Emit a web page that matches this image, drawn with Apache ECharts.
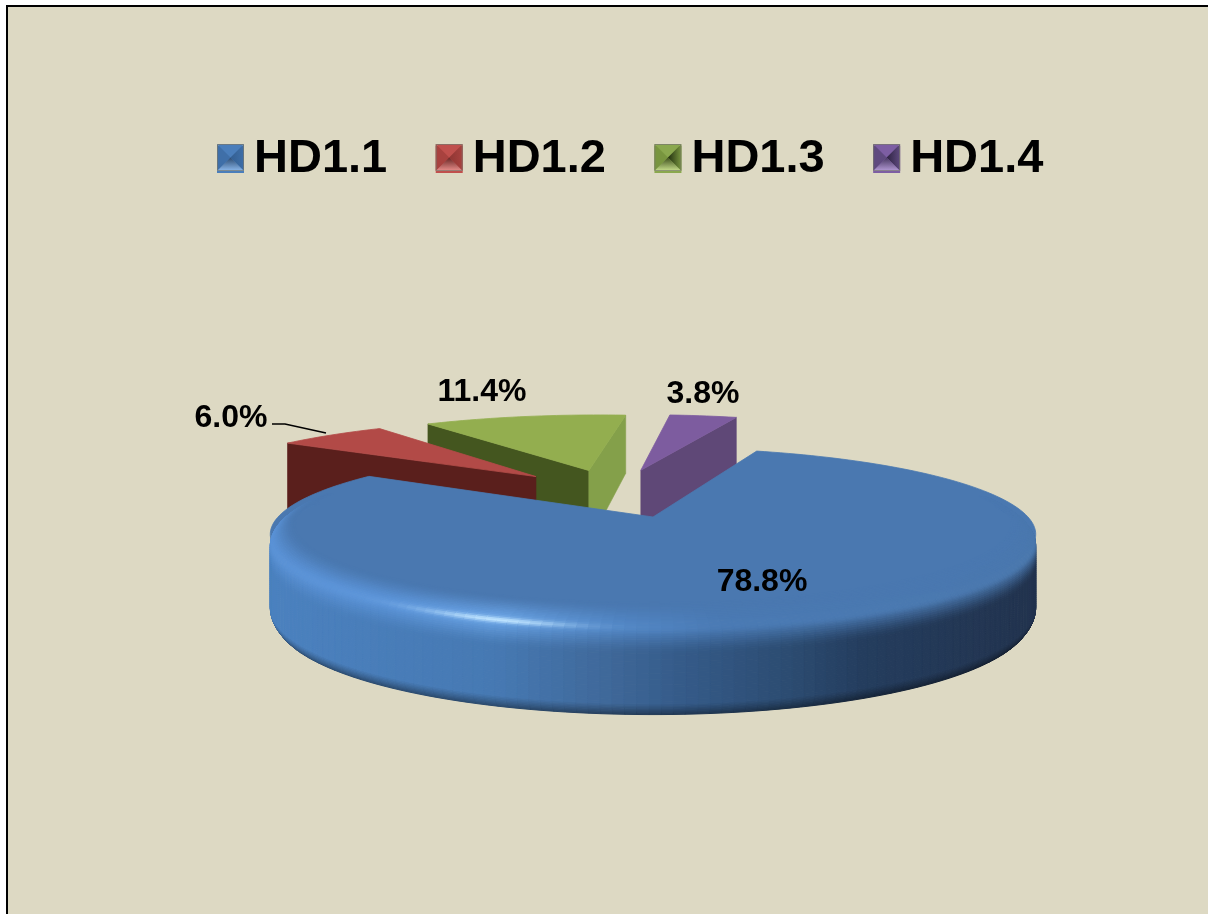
<!DOCTYPE html>
<html><head><meta charset="utf-8">
<style>html,body{margin:0;padding:0;background:#fff}#c{width:1208px;height:914px}</style>
<script src="https://cdn.jsdelivr.net/npm/echarts@6/dist/echarts.min.js"></script>
</head><body><div id="c"></div>
<script>
// ---- data ----
var categories = ['HD1.1', 'HD1.2', 'HD1.3', 'HD1.4'];
var values = [78.8, 6.0, 11.4, 3.8];

// ---- layout & style ----
var CX = 653, CY = 517, A = 375, B = 83, K = 0.2, EXPLODE = 0.33, START = 19.2;
var H0 = 81.6, H1 = 14.4;
var labelPos = [[762, 582], [231, 418.5], [482, 392.5], [703, 394]];
var seriesZ = [5, 3, 2, 2];
var palette = [
  {top:'#4a78b0', f0:'#3a5f8e', f1:'#3a5f8e', base:'#4a7ebb', il:'#3f6fa8', ir:'#335f92', ib:'#2b4a70', ic:'#8bb8ec'},
  {top:'#b24a47', f0:'#5a1f1c', f1:'#6e2a28', base:'#c0504d', il:'#a8423f', ir:'#8f3633', ib:'#662523', ic:'#ea8f8c'},
  {top:'#93ae4f', f0:'#44561f', f1:'#84a04a', base:'#8aa84e', il:'#78953f', ir:'#22300f', ib:'#3d4e1c', ic:'#c8e08c'},
  {top:'#7d5c9f', f0:'#5f4877', f1:'#5f4877', base:'#7d5ea3', il:'#5f4a7f', ir:'#2e2342', ib:'#46365f', ic:'#b49ad6'}
];
var LEGEND_LEFT = 217, LEGEND_STEP = 218.7, LEGEND_TOP = 144, ICON = 27;

// ---- colour helpers ----
function hex(c){return [parseInt(c.substr(1,2),16),parseInt(c.substr(3,2),16),parseInt(c.substr(5,2),16)];}
function mix(a,b,t){t=Math.max(0,Math.min(1,t));return [a[0]+(b[0]-a[0])*t,a[1]+(b[1]-a[1])*t,a[2]+(b[2]-a[2])*t];}
function css(c){return 'rgb('+Math.round(c[0])+','+Math.round(c[1])+','+Math.round(c[2])+')';}
function table(stops,x){
  if(x<=stops[0][0])return hex(stops[0][1]);
  for(var i=1;i<stops.length;i++){ if(x<=stops[i][0]){
    return mix(hex(stops[i-1][1]),hex(stops[i][1]),(x-stops[i-1][0])/(stops[i][0]-stops[i-1][0])); } }
  return hex(stops[stops.length-1][1]);
}
var wallStops=[[0,'#4b81bf'],[0.3,'#4679b3'],[0.45,'#3f6899'],[0.55,'#345a88'],[0.68,'#2c4c72'],[0.78,'#243d5e'],[1,'#22334e']];
var rimStops=[[0,'#5a92d6'],[0.15,'#5c95da'],[0.3,'#6aa4e6'],[0.46,'#5287c6'],[0.6,'#4a7ab4'],[1,'#4a78ae']];
var SPEC = '#bfe4ff';

// ---- geometry ----
function dir(a){var r=a*Math.PI/180;return [Math.sin(r),-Math.cos(r)];}
function project(u,v,f){
  var w=1-K*v;
  return [CX+A*u/w, CY+B*v/w+(f||0)*(H0+H1*v)];
}
var slices=(function(){
  var total=values.reduce(function(s,v){return s+v;},0), a=START, out=[];
  values.forEach(function(v){var b=a+v/total*360;out.push({a0:a,a1:b,mid:(a+b)/2});a=b;});
  var d0=dir(out[0].mid);
  out.forEach(function(s){var d=dir(s.mid);s.ax=EXPLODE*(d[0]-d0[0]);s.av=EXPLODE*(d[1]-d0[1]);});
  return out;
})();
function pt(s,a,r,f){var d=dir(a);return project(s.ax+r*d[0],s.av+r*d[1],f);}

function smooth(x){x=Math.max(0,Math.min(1,x));return x*x*(3-2*x);}
function rimElements(s){
  var els=[],cols=[],step=1.5;
  for(var a=Math.max(s.a0,74);a<Math.min(s.a1,288);a+=step)cols.push(a);
  cols.sort(function(x,y){return (-Math.cos(x*Math.PI/180))-(-Math.cos(y*Math.PI/180));});
  var N=60, TB=0.34, TW=0.86;
  function prof(t,a){
    var v=Math.max(-Math.cos(a*Math.PI/180),0);
    var rb=0.95-0.10*v;
    if(t<TB){var q=t/TB;return {r:rb+(1-rb)*Math.sin(q*Math.PI/2),f:0.14*q*q};}
    if(t<TW){return {r:1,f:0.14+(t-TB)/(TW-TB)*0.72};}
    var e=(t-TW)/(1-TW);return {r:1-0.015*e*e,f:0.86+0.14*e};
  }
  var F=hex(palette[0].top), S=hex(SPEC), tp=TB*0.75;
  cols.forEach(function(a){
    var wallOn=(-Math.cos(a*Math.PI/180))>K-0.02;
    var fade=smooth(Math.min(a-74,288-a)/24);
    var xn=(pt(s,a,1,0)[0]-271)/766;
    var W=mix(F,table(wallStops,xn),fade), R=mix(F,table(rimStops,xn),fade);
    var spec=Math.exp(-Math.pow((xn-0.30)/0.09,2));
    for(var i=N-1;i>=0;i--){
      var t0=i/N,t1=(i+1)/N;
      if(!wallOn&&t0>=TB)continue;
      var p00=prof(t0,a),p01=prof(t1,a),p10=prof(t0,a+step),p11=prof(t1,a+step);
      var tm=(t0+t1)/2,c;
      if(tm<tp){c=mix(F,R,smooth(tm/tp));}
      else if(tm<TW){c=mix(R,W,smooth((tm-tp)/0.24));}
      else{c=mix(W,[W[0]*0.58,W[1]*0.58,W[2]*0.58],(tm-TW)/(1-TW));}
      c=mix(c,S,spec*Math.exp(-Math.pow((tm-tp)/0.03,2)));
      var col=css(c);
      els.push({type:'polygon',shape:{points:[pt(s,a,p00.r,p00.f),pt(s,a+step,p10.r,p10.f),pt(s,a+step,p11.r,p11.f),pt(s,a,p01.r,p01.f)]},
        style:{fill:col,stroke:col,lineWidth:1}});
    }
  });
  return els;
}

function faceQuad(s,a,color){
  var apexT=project(s.ax,s.av,0),apexB=project(s.ax,s.av,1);
  var outT=pt(s,a,1,0),outB=pt(s,a,1,1);
  return {type:'polygon',shape:{points:[apexT,outT,outB,apexB]},style:{fill:color,stroke:color,lineWidth:0.6}};
}

function renderSlice(i){
  return function(params,api){
    var s=slices[i],p=palette[i],els=[];
    if(-Math.cos((s.a0-90)*Math.PI/180)>0)els.push(faceQuad(s,s.a0,p.f0));
    if(-Math.cos((s.a1+90)*Math.PI/180)>0)els.push(faceQuad(s,s.a1,p.f1));
    var pts=[project(s.ax,s.av,0)];
    for(var a=s.a0;a<s.a1;a+=1.5)pts.push(pt(s,a,1,0));
    pts.push(pt(s,s.a1,1,0));
    els.push({type:'polygon',shape:{points:pts},style:{fill:p.top,stroke:p.top,lineWidth:0.8}});
    if(s.a1-s.a0>180)els=els.concat(rimElements(s));
    if(i===1)els.push({type:'polyline',shape:{points:[[272,424],[285,424],[326,433]]},style:{fill:null,stroke:'#000',lineWidth:1.6}});
    els.push({type:'text',x:labelPos[i][0],y:labelPos[i][1],style:{text:api.value(0).toFixed(1)+'%',
      fill:'#000',font:'bold 32px "Liberation Sans", Arial, sans-serif',align:'center',verticalAlign:'middle'}});
    return {type:'group',children:els};
  };
}

// ---- legend bevels ----
function iconGraphics(){
  var out=[];
  palette.forEach(function(p,i){
    var L=LEGEND_LEFT+i*LEGEND_STEP,T=LEGEND_TOP,S=ICON,mx=L+S/2,my=T+S/2;
    function tri(pts,fill){out.push({type:'polygon',z:20,shape:{points:pts},style:{fill:fill}});}
    tri([[L,T],[L+S,T],[mx,my]],p.base);
    tri([[L,T],[mx,my],[L,T+S]],p.il);
    tri([[L+S,T],[L+S,T+S],[mx,my]],{type:'linear',x:1,y:0,x2:0,y2:0,colorStops:[{offset:0,color:p.il},{offset:1,color:p.ir}]});
    tri([[L,T+S],[mx,my],[L+S,T+S]],{type:'linear',x:0,y:0,x2:0,y2:1,colorStops:[{offset:0,color:p.ib},{offset:1,color:p.ic}]});
    out.push({type:'rect',z:21,shape:{x:L+0.5,y:T+0.5,width:S-1,height:S-1},style:{fill:null,stroke:'rgba(120,120,110,0.7)',lineWidth:1}});
  });
  return out;
}

var frame=[
  {type:'rect',z:30,shape:{x:0,y:0,width:1208,height:5},style:{fill:'#fff'}},
  {type:'rect',z:30,shape:{x:0,y:0,width:6,height:914},style:{fill:'#fff'}},
  {type:'rect',z:31,shape:{x:6,y:5,width:1202,height:2},style:{fill:'#000'}},
  {type:'rect',z:31,shape:{x:6,y:5,width:2,height:909},style:{fill:'#000'}}
];

var chart=echarts.init(document.getElementById('c'),null,{renderer:'canvas'});
chart.setOption({
  animation:false,
  backgroundColor:'#ddd9c3',
  legend:{
    data:categories,left:LEGEND_LEFT,top:136,padding:0,orient:'horizontal',icon:'rect',
    itemWidth:ICON,itemHeight:ICON,itemGap:48.5,
    textStyle:{fontFamily:'"Liberation Sans", Arial, sans-serif',fontWeight:'bold',fontSize:47,color:'#000',padding:[21,0,0,5]},
    selectedMode:false
  },
  graphic:{elements:frame.concat(iconGraphics())},
  series:categories.map(function(name,i){
    return {type:'custom',name:name,coordinateSystem:'none',silent:true,z:seriesZ[i],
      itemStyle:{color:palette[i].base},
      data:[[values[i]]],renderItem:renderSlice(i)};
  })
});
</script></body></html>
